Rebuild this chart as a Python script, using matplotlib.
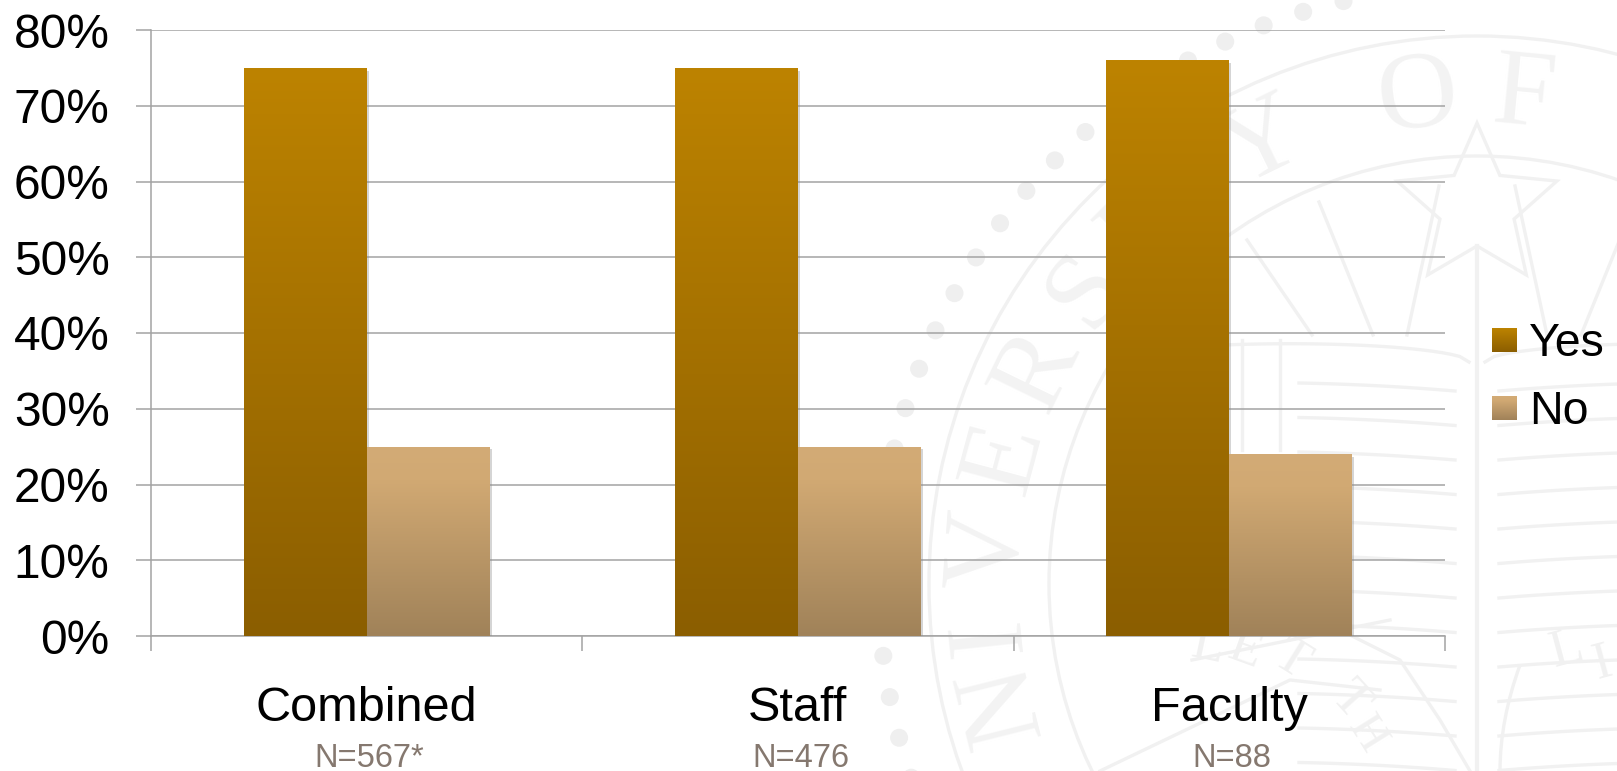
import numpy as np
import matplotlib
matplotlib.use("Agg")
import matplotlib.pyplot as plt
from matplotlib.colors import LinearSegmentedColormap
from matplotlib.patches import Circle, Polygon, PathPatch
from matplotlib.path import Path
from matplotlib.patheffects import SimplePatchShadow, Normal
from matplotlib.ticker import FuncFormatter

plt.rcParams["font.family"] = ["Liberation Sans", "DejaVu Sans"]

categories = ["Combined", "Staff", "Faculty"]
sample_sizes = ["N=567*", "N=476", "N=88"]
yes_values = [75, 75, 76]
no_values = [25, 25, 24]
y_ticks = [0, 10, 20, 30, 40, 50, 60, 70, 80]

W, H = 1617, 771
GRID = "#a3a3a3"
SEAL = "#f1f1f1"
yes_cmap = LinearSegmentedColormap.from_list("yes", ["#bd8300", "#8b5e00"])
no_cmap = LinearSegmentedColormap.from_list("no", [(0, "#d3ab76"), (0.18, "#d1a973"), (1, "#a08259")])

fig = plt.figure(figsize=(W / 100, H / 100), dpi=100)

# faint university seal behind the chart, in pixel coordinates
bg = fig.add_axes([0, 0, 1, 1], zorder=0)
bg.set_xlim(0, W)
bg.set_ylim(H, 0)
bg.axis("off")
cx, cy = 1477, 584

for r in (548, 428):
    bg.add_patch(Circle((cx, cy), r, fill=False, ec=SEAL, lw=2.4))
for t in np.radians(np.arange(-12.9, -125, -4.0)):
    bg.add_patch(Circle((cx + 598 * np.sin(t), cy - 598 * np.cos(t)), 9, color="#efefef", lw=0))

seal_letters = ["N", "I", "V", "E", "R", "S", "I", "T", "Y", "O", "F"]
seal_angles = [-104, -96, -86, -75, -64, -53, -45, -36, -26, -7, 5.5]
for ch, a in zip(seal_letters, seal_angles):
    t = np.radians(a)
    bg.text(cx + 488 * np.sin(t), cy - 488 * np.cos(t), ch, rotation=-a, rotation_mode="anchor",
            ha="center", va="center", fontsize=80, color="#f3f3f3", family="Liberation Serif", clip_on=True)

# star and rays
star = []
for k in range(10):
    r = 84 if k % 2 == 0 else 39
    t = np.radians(36 * k)
    star.append((cx + r * np.sin(t), 207 - r * np.cos(t)))
bg.add_patch(Polygon(star, closed=True, fill=False, ec=SEAL, lw=2.4))
for side in (-1, 1):
    for x0, y0, x1, y1 in [(38, 186, 70, 335), (158, 202, 104, 335), (230, 240, 165, 335)]:
        bg.plot([cx + side * x0, cx + side * x1], [y0, y1], color=SEAL, lw=2.4)

# open book
bg.plot([cx, cx], [246, H], color=SEAL, lw=3)
xs = np.linspace(0, 1, 30)
for side in (-1, 1):
    for y0 in np.arange(382, H, 34.5):
        px = cx + side * (22 + 156 * xs)
        bg.plot(px, y0 + 9 - 13 * xs + 5 * xs ** 2, color=SEAL, lw=2.4)
    px = cx + side * (8 + 270 * xs)
    bg.plot(px, 362 - 30 * np.sqrt(xs) + 14 * xs ** 2, color=SEAL, lw=2.4)
    bg.plot([cx + side * 197] * 2, [340, 450], color=SEAL, lw=2.4)
    bg.plot([cx + side * 235] * 2, [340, 450], color=SEAL, lw=2.4)

# ribbon with the motto
bg.text(1208, 647, "L", rotation=-12, ha="center", va="center", fontsize=38, color=SEAL, family="Liberation Serif")
bg.text(1245, 650, "E", rotation=-20, ha="center", va="center", fontsize=38, color=SEAL, family="Liberation Serif")
bg.text(1291, 660, "T", rotation=-32, ha="center", va="center", fontsize=38, color=SEAL, family="Liberation Serif")
bg.text(1350, 700, "T", rotation=-48, ha="center", va="center", fontsize=38, color=SEAL, family="Liberation Serif")
bg.text(1366, 735, "H", rotation=-58, ha="center", va="center", fontsize=34, color=SEAL, family="Liberation Serif")
bg.text(1567, 650, "L", rotation=15, ha="center", va="center", fontsize=38, color=SEAL, family="Liberation Serif")
bg.text(1602, 664, "I", rotation=15, ha="center", va="center", fontsize=38, color=SEAL, family="Liberation Serif")
ribbon = Path([(1520, 665), (1500, 720), (1500, 771)], [Path.MOVETO, Path.CURVE3, Path.CURVE3])
bg.add_patch(PathPatch(ribbon, fill=False, ec=SEAL, lw=2.4))
bg.plot([1192, 1390], [660, 620], color=SEAL, lw=2.4)
bg.plot([1300, 1400, 1440, 1470], [610, 660, 720, 771], color=SEAL, lw=2.4)
bg.plot([1100, 1290, 1380], [771, 680, 690], color=SEAL, lw=2.4)

# the chart itself
ax = fig.add_axes([151 / W, 1 - 636 / H, (1445 - 151) / W, 606 / H], zorder=1)
ax.patch.set_alpha(0)
x = np.arange(len(categories)) + 0.5
bar_w = 0.285
shadow = [SimplePatchShadow(offset=(1.5, -2), shadow_rgbFace="#888888", alpha=0.35), Normal()]

yes_bars = ax.bar(x - bar_w / 2, yes_values, bar_w, color="#a87400", zorder=3, path_effects=shadow)
no_bars = ax.bar(x + bar_w / 2, no_values, bar_w, color="#bd9a68", zorder=3, path_effects=shadow)

grad = np.linspace(0, 1, 256).reshape(-1, 1)
for bars, cmap in ((yes_bars, yes_cmap), (no_bars, no_cmap)):
    for b in bars:
        im = ax.imshow(grad, cmap=cmap, aspect="auto", zorder=4,
                       extent=(b.get_x(), b.get_x() + b.get_width(), 0, b.get_height()))
        im.set_clip_path(b)

ax.set_xlim(0, len(categories))
ax.set_ylim(0, 80)
ax.set_yticks(y_ticks)
ax.yaxis.set_major_formatter(FuncFormatter(lambda v, p: f"{v:.0f}%"))
ax.set_xticks(np.arange(len(categories) + 1))
ax.set_xticklabels([])
ax.set_xticks(x, minor=True)
ax.set_xticklabels(categories, minor=True)
ax.grid(axis="y", color=GRID, lw=1.1, zorder=1)
ax.set_axisbelow(True)
ax.tick_params(axis="both", which="major", length=10.8, width=1.1, color=GRID)
ax.tick_params(axis="y", labelsize=34.5, pad=19, labelcolor="black")
ax.tick_params(axis="x", which="minor", length=0, labelsize=35, pad=36, labelcolor="black")
for s in ("top", "right"):
    ax.spines[s].set_visible(False)
for s in ("left", "bottom"):
    ax.spines[s].set_color(GRID)
    ax.spines[s].set_linewidth(1.1)

for xi, label in zip(x, sample_sizes):
    ax.annotate(label, (xi, 0), xycoords=ax.get_xaxis_transform(), xytext=(2, -88), textcoords="offset points",
                ha="center", va="center", fontsize=23.5, color="#85786f", annotation_clip=False)

# legend, gradient swatches and labels
leg = fig.add_axes([0, 0, 1, 1], zorder=2)
leg.set_xlim(0, W)
leg.set_ylim(H, 0)
leg.axis("off")
for label, cmap, top in (("Yes", yes_cmap, 328), ("No", no_cmap, 396)):
    leg.imshow(grad, cmap=cmap, aspect="auto", extent=(1492, 1517, top + 24, top))
    leg.text(1529, top + 16, label, ha="left", va="center", fontsize=33.5, color="black")
leg.set_xlim(0, W)
leg.set_ylim(H, 0)

fig.savefig("out.png", dpi=100)
